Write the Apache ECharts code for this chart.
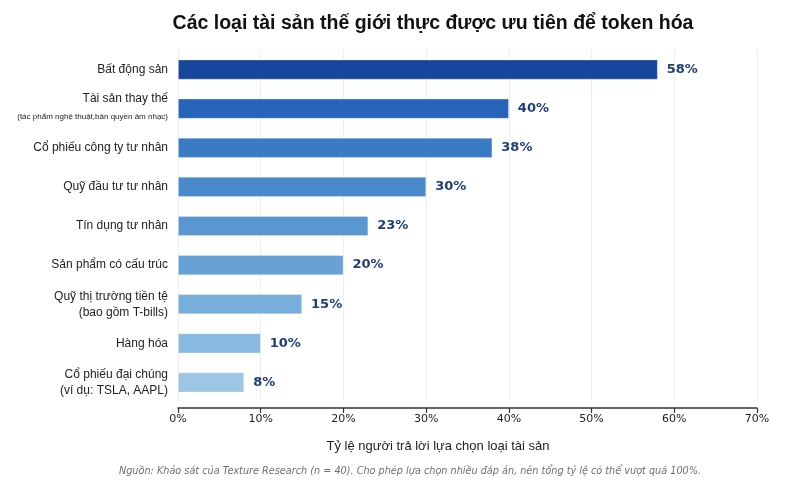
<!DOCTYPE html>
<html>
<head>
<meta charset="utf-8">
<script src="https://cdn.jsdelivr.net/npm/echarts@6/dist/echarts.min.js"></script>
<style>html,body{margin:0;padding:0;background:#fff}#c{width:800px;height:486px}</style>
</head>
<body>
<div id="c"></div>
<script>
const categories = [
  'Bất động sản',
  'Tài sản thay thế\n(tác phẩm nghệ thuật,bản quyền âm nhạc)',
  'Cổ phiếu công ty tư nhân',
  'Quỹ đầu tư tư nhân',
  'Tín dụng tư nhân',
  'Sản phẩm có cấu trúc',
  'Quỹ thị trường tiền tệ\n(bao gồm T-bills)',
  'Hàng hóa',
  'Cổ phiếu đại chúng\n(ví dụ: TSLA, AAPL)'
];
const values = [58, 40, 38, 30, 23, 20, 15, 10, 8];
const xTicks = [0, 10, 20, 30, 40, 50, 60, 70];
const titleText = 'Các loại tài sản thế giới thực được ưu tiên để token hóa';
const xAxisTitle = 'Tỷ lệ người trả lời lựa chọn loại tài sản';
const footnote = 'Nguồn: Khảo sát của Texture Research (n = 40). Cho phép lựa chọn nhiều đáp án, nên tổng tỷ lệ có thể vượt quá 100%.';

const palette = ['#17479c', '#2765bb', '#3a7bc6', '#4a89cc', '#5a97d1', '#67a1d6', '#78aedc', '#8abae1', '#9cc5e6'];

const chart = echarts.init(document.getElementById('c'), null, {renderer: 'canvas'});
chart.setOption({
  backgroundColor: '#ffffff',
  animation: false,
  title: [
    {text: titleText, left: 428, top: 9, textAlign: 'center',
     textStyle: {fontFamily: 'Liberation Sans, Arial, sans-serif', fontSize: 19.5, fontWeight: 'bold', color: '#111'}},
    {text: xAxisTitle, left: 433, top: 435, textAlign: 'center',
     textStyle: {fontFamily: 'Liberation Sans, Arial, sans-serif', fontSize: 13, fontWeight: 'normal', color: '#222'}},
    {text: footnote, left: 405, top: 461, textAlign: 'center',
     textStyle: {fontFamily: 'DejaVu Sans, sans-serif', fontSize: 9.7, fontStyle: 'italic', fontWeight: 'normal', color: '#6f6f6f'}}
  ],
  grid: {left: 178, right: 43, top: 50, bottom: 84, containLabel: false, outerBoundsMode: 'none'},
  xAxis: {
    type: 'value', min: 0, max: 70, interval: 10, offset: 6,
    axisLine: {show: true, lineStyle: {color: '#333', width: 1.5}},
    axisTick: {show: true, length: 5, lineStyle: {color: '#333', width: 1.2}},
    axisLabel: {formatter: v => xTicks.includes(v) ? v + '%' : '', fontFamily: 'DejaVu Sans, sans-serif', fontSize: 11, color: '#222', margin: 6},
    splitLine: {show: true, lineStyle: {color: '#efefef', width: 1}}
  },
  yAxis: {
    type: 'category', data: categories, inverse: true,
    axisLine: {show: false}, axisTick: {show: false},
    axisLabel: {
      margin: 10, fontFamily: 'Liberation Sans, Arial, sans-serif', fontSize: 12, color: '#222', lineHeight: 16,
      formatter: function (v) {
        const parts = v.split('\n');
        if (parts.length > 1 && parts[1].length > 25) {
          return '{main|' + parts[0] + '}\n{sub|' + parts[1] + '}';
        }
        return parts.map(p => '{main|' + p + '}').join('\n');
      },
      rich: {
        main: {fontFamily: 'Liberation Sans, Arial, sans-serif', fontSize: 12, color: '#222', lineHeight: 16, align: 'right'},
        sub: {fontFamily: 'Liberation Sans, Arial, sans-serif', fontSize: 8, color: '#222', lineHeight: 20, align: 'right'}
      }
    }
  },
  series: [{
    type: 'bar',
    data: values.map((v, i) => ({value: v, itemStyle: {color: palette[i]}})),
    barWidth: 20,
    itemStyle: {borderColor: 'rgba(255,255,255,0.35)', borderWidth: 0.8},
    label: {
      show: true, position: 'right', distance: 9,
      formatter: p => p.value + '%',
      fontFamily: 'DejaVu Sans, sans-serif', fontSize: 13, fontWeight: 'bold', color: '#1f3d78'
    }
  }]
});
</script>
</body>
</html>
